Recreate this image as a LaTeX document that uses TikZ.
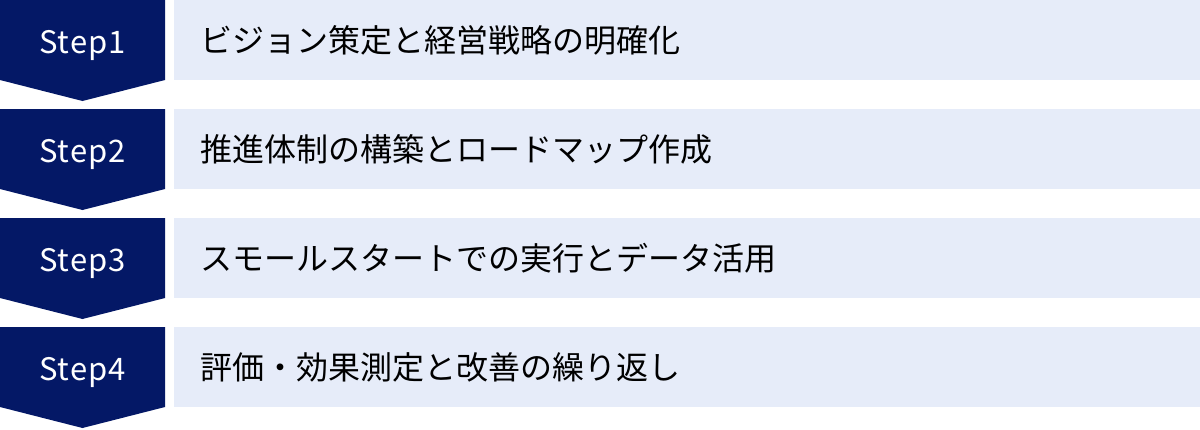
\documentclass[tikz,border=0pt]{standalone}
\usepackage{fontspec}
\newfontfamily\jpfont{Noto Sans CJK JP}
\newfontfamily\stepfont[LetterSpace=3]{Noto Sans CJK JP}
\definecolor{navy}{HTML}{041866}
\definecolor{pale}{HTML}{E6ECF9}
\tikzset{
  steplabel/.style={text=white, inner sep=0pt, anchor=base, font=\stepfont\fontsize{31}{31}\selectfont},
  desclabel/.style={text=black, inner sep=0pt, anchor=base west, font=\jpfont\fontsize{32}{32}\selectfont},
}
\begin{document}
\begin{tikzpicture}[x=1pt,y=-1pt]
\useasboundingbox (0,0) rectangle (1200,429);
\foreach \i/\txt in {1/ビジョン策定と経営戦略の明確化,2/推進体制の構築とロードマップ作成,3/スモールスタートでの実行とデータ活用,4/評価・効果測定と改善の繰り返し}{
  \pgfmathsetmacro{\t}{(\i-1)*109}
  \fill[navy] (0,\t) -- (165,\t) -- (165,\t+80) -- (82.5,\t+101) -- (0,\t+80) -- cycle;
  \fill[pale] (174,\t) rectangle (1200,\t+80);
  \node[steplabel] (s\i) at (82.5,\t+53) {Step\i};
  \node[desclabel] (d\i) at (200,\t+52) {\txt};
}
\end{tikzpicture}
\end{document}
